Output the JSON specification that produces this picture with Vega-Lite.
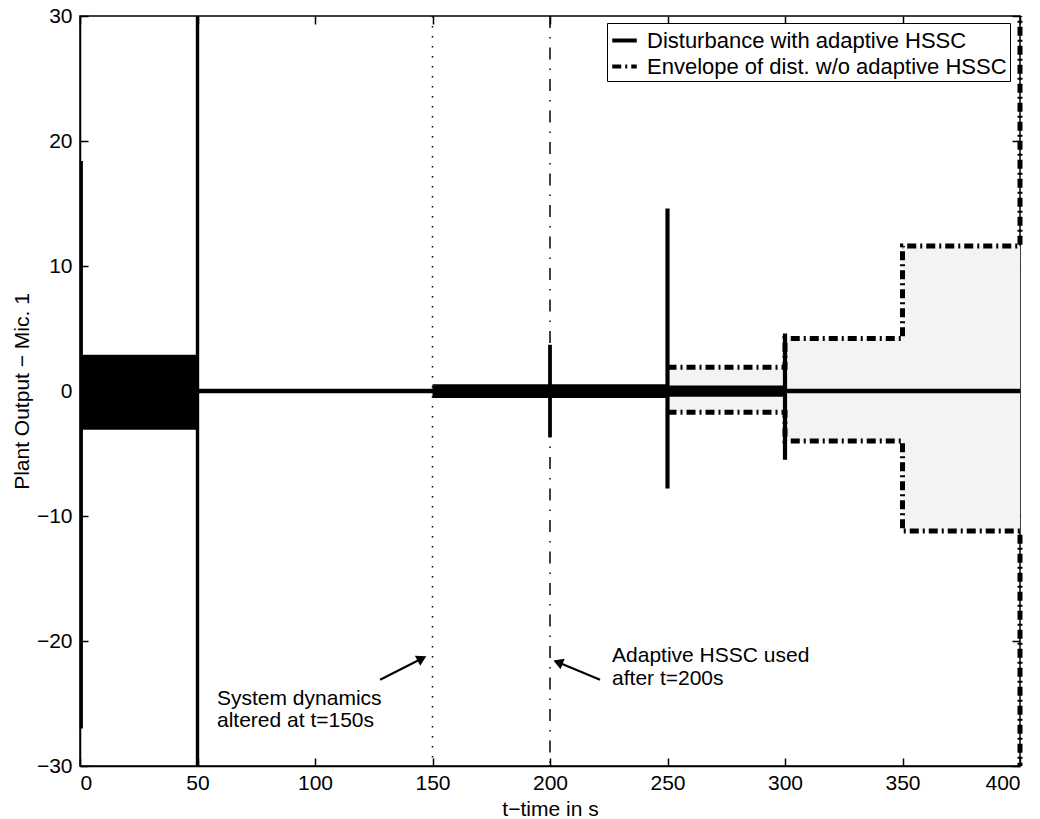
{
  "$schema": "https://vega.github.io/schema/vega-lite/v6.json",
  "width": 940,
  "height": 750,
  "autosize": {"type": "none"},
  "padding": {"left": 80, "top": 16, "right": 20, "bottom": 53},
  "background": "white",
  "config": {
    "font": "Liberation Sans",
    "view": {"stroke": "black", "strokeWidth": 1.5},
    "axis": {
      "labelFont": "Liberation Sans",
      "labelFontSize": 21,
      "labelColor": "black",
      "titleFont": "Liberation Sans",
      "titleFontSize": 21,
      "titleFontWeight": "normal",
      "titleColor": "black",
      "tickColor": "black",
      "tickSize": 8,
      "tickWidth": 1.5,
      "domainColor": "black",
      "domainWidth": 1.5,
      "grid": false
    },
    "legend": {
      "orient": "none",
      "legendX": 527,
      "legendY": 7,
      "strokeColor": "black",
      "fillColor": "white",
      "padding": 3,
      "labelFont": "Liberation Sans",
      "labelFontSize": 22,
      "labelColor": "black",
      "labelLimit": 600,
      "symbolType": "stroke",
      "symbolSize": 600,
      "symbolStrokeWidth": 4,
      "symbolStrokeColor": "black",
      "rowPadding": -5,
      "labelOffset": 8
    }
  },
  "datasets": {
    "env_area": [
      {"t": 250, "hi": 1.9, "lo": -1.7},
      {"t": 300, "hi": 4.2, "lo": -4.0},
      {"t": 350, "hi": 11.6, "lo": -11.2},
      {"t": 400, "hi": 11.6, "lo": -11.2}
    ],
    "markers": [
      {"t": 150, "kind": "dotted"},
      {"t": 200, "kind": "dashdot"}
    ],
    "bands": [
      {"t1": 0, "t2": 50, "lo": -3.1, "hi": 2.9},
      {"t1": 150, "t2": 250, "lo": -0.55, "hi": 0.55},
      {"t1": 250, "t2": 300, "lo": -0.45, "hi": 0.45}
    ],
    "spikes": [
      {"t": 0.6, "lo": -27, "hi": 18.4, "group": "edge"},
      {"t": 50, "lo": -30, "hi": 30, "group": "major"},
      {"t": 200, "lo": -3.7, "hi": 3.7, "group": "small"},
      {"t": 250, "lo": -7.8, "hi": 14.6, "group": "mid"},
      {"t": 300, "lo": -5.5, "hi": 4.6, "group": "mid"}
    ],
    "lines": [
      {"series": "Disturbance with adaptive HSSC", "path": "d", "order": 1, "t": 50, "v": 0},
      {"series": "Disturbance with adaptive HSSC", "path": "d", "order": 2, "t": 400, "v": 0},
      {"series": "Envelope of dist. w/o adaptive HSSC", "path": "eu", "order": 1, "t": 250, "v": 1.9},
      {"series": "Envelope of dist. w/o adaptive HSSC", "path": "eu", "order": 2, "t": 300, "v": 1.9},
      {"series": "Envelope of dist. w/o adaptive HSSC", "path": "eu", "order": 3, "t": 300, "v": 4.2},
      {"series": "Envelope of dist. w/o adaptive HSSC", "path": "eu", "order": 4, "t": 350, "v": 4.2},
      {"series": "Envelope of dist. w/o adaptive HSSC", "path": "eu", "order": 5, "t": 350, "v": 11.6},
      {"series": "Envelope of dist. w/o adaptive HSSC", "path": "eu", "order": 6, "t": 400, "v": 11.6},
      {"series": "Envelope of dist. w/o adaptive HSSC", "path": "eu", "order": 7, "t": 400, "v": 30},
      {"series": "Envelope of dist. w/o adaptive HSSC", "path": "el", "order": 1, "t": 250, "v": -1.7},
      {"series": "Envelope of dist. w/o adaptive HSSC", "path": "el", "order": 2, "t": 300, "v": -1.7},
      {"series": "Envelope of dist. w/o adaptive HSSC", "path": "el", "order": 3, "t": 300, "v": -4.0},
      {"series": "Envelope of dist. w/o adaptive HSSC", "path": "el", "order": 4, "t": 350, "v": -4.0},
      {"series": "Envelope of dist. w/o adaptive HSSC", "path": "el", "order": 5, "t": 350, "v": -11.2},
      {"series": "Envelope of dist. w/o adaptive HSSC", "path": "el", "order": 6, "t": 400, "v": -11.2},
      {"series": "Envelope of dist. w/o adaptive HSSC", "path": "el", "order": 7, "t": 400, "v": -30}
    ],
    "notes": [
      {"t": 58.3, "v": -24.6, "label": "System dynamics"},
      {"t": 58.3, "v": -26.4, "label": "altered at t=150s"},
      {"t": 226.4, "v": -21.2, "label": "Adaptive HSSC used"},
      {"t": 226.4, "v": -23.0, "label": "after t=200s"}
    ],
    "arrows": [
      {"id": "a1", "t": 127.7, "v": -23.1, "t2": 145.5, "v2": -21.4},
      {"id": "a2", "t": 221.3, "v": -23.1, "t2": 203.4, "v2": -21.7}
    ]
  },
  "resolve": {"axis": {"x": "independent", "y": "independent"}},
  "layer": [
    {
      "data": {"name": "env_area"},
      "mark": {"type": "area", "interpolate": "step-after", "fill": "#f3f3f3", "clip": true},
      "encoding": {
        "x": {"field": "t", "type": "quantitative", "scale": {"domain": [0, 400], "nice": false, "zero": false},
          "axis": {"orient": "bottom", "values": [0, 50, 100, 150, 200, 250, 300, 350, 400], "title": "t−time in s", "ticks": false, "labelPadding": 6, "titlePadding": 5}},
        "y": {"field": "hi", "type": "quantitative", "scale": {"domain": [-30, 30], "nice": false, "zero": false},
          "axis": {"orient": "left", "values": [-30, -20, -10, 0, 10, 20, 30], "title": "Plant Output − Mic. 1", "ticks": false, "labelPadding": 8, "titlePadding": 4}},
        "y2": {"field": "lo"}
      }
    },
    {
      "data": {"name": "markers"},
      "transform": [{"filter": "datum.kind === 'dotted'"}],
      "mark": {"type": "rule", "color": "black", "strokeWidth": 1.5, "strokeDash": [1.5, 8.5]},
      "encoding": {
        "x": {"field": "t", "type": "quantitative", "axis": null}
      }
    },
    {
      "data": {"name": "markers"},
      "transform": [{"filter": "datum.kind === 'dashdot'"}],
      "mark": {"type": "rule", "color": "black", "strokeWidth": 1.5, "strokeDash": [12, 9, 1.5, 9]},
      "encoding": {
        "x": {"field": "t", "type": "quantitative", "axis": null}
      }
    },
    {
      "data": {"name": "bands"},
      "mark": {"type": "rect", "color": "black"},
      "encoding": {
        "x": {"field": "t1", "type": "quantitative",
          "axis": {"orient": "bottom", "offset": -8, "values": [0, 50, 100, 150, 200, 250, 300, 350, 400], "labels": false, "title": null, "domain": false}},
        "x2": {"field": "t2"},
        "y": {"field": "lo", "type": "quantitative",
          "axis": {"orient": "left", "offset": -8, "values": [-30, -20, -10, 0, 10, 20, 30], "labels": false, "title": null, "domain": false}},
        "y2": {"field": "hi"}
      }
    },
    {
      "data": {"name": "spikes"},
      "mark": {"type": "rule", "color": "black"},
      "encoding": {
        "x": {"field": "t", "type": "quantitative",
          "axis": {"orient": "top", "offset": -8, "values": [0, 50, 100, 150, 200, 250, 300, 350, 400], "labels": false, "title": null, "domain": false}},
        "y": {"field": "lo", "type": "quantitative",
          "axis": {"orient": "right", "offset": -8, "values": [-30, -20, -10, 0, 10, 20, 30], "labels": false, "title": null, "domain": false}},
        "y2": {"field": "hi"},
        "strokeWidth": {"field": "group", "type": "nominal", "legend": null,
          "scale": {"domain": ["edge", "major", "small", "mid"], "range": [3, 5, 3, 4.5]}}
      }
    },
    {
      "data": {"name": "lines"},
      "mark": {"type": "line", "color": "black", "strokeCap": "butt"},
      "encoding": {
        "x": {"field": "t", "type": "quantitative", "axis": null},
        "y": {"field": "v", "type": "quantitative", "axis": null},
        "detail": {"field": "path"},
        "order": {"field": "order", "type": "quantitative"},
        "strokeDash": {"field": "series", "type": "nominal", "title": null,
          "scale": {"domain": ["Disturbance with adaptive HSSC", "Envelope of dist. w/o adaptive HSSC"], "range": [[1, 0], [9, 4, 2, 4]]}},
        "strokeWidth": {"field": "series", "type": "nominal", "title": null,
          "scale": {"domain": ["Disturbance with adaptive HSSC", "Envelope of dist. w/o adaptive HSSC"], "range": [3.5, 4]}}
      }
    },
    {
      "data": {"name": "arrows"},
      "mark": {"type": "rule", "color": "black", "strokeWidth": 2},
      "encoding": {
        "x": {"field": "t", "type": "quantitative", "axis": null},
        "y": {"field": "v", "type": "quantitative", "axis": null},
        "x2": {"field": "t2"},
        "y2": {"field": "v2"}
      }
    },
    {
      "data": {"name": "arrows"},
      "transform": [{"filter": "datum.id === 'a1'"}],
      "mark": {"type": "point", "shape": "triangle-up", "filled": true, "color": "black", "size": 130, "angle": 62, "opacity": 1},
      "encoding": {
        "x": {"field": "t2", "type": "quantitative", "axis": null},
        "y": {"field": "v2", "type": "quantitative", "axis": null}
      }
    },
    {
      "data": {"name": "arrows"},
      "transform": [{"filter": "datum.id === 'a2'"}],
      "mark": {"type": "point", "shape": "triangle-up", "filled": true, "color": "black", "size": 130, "angle": 291, "opacity": 1},
      "encoding": {
        "x": {"field": "t2", "type": "quantitative", "axis": null},
        "y": {"field": "v2", "type": "quantitative", "axis": null}
      }
    },
    {
      "data": {"name": "notes"},
      "mark": {"type": "text", "align": "left", "baseline": "middle", "font": "Liberation Sans", "fontSize": 21, "color": "black"},
      "encoding": {
        "x": {"field": "t", "type": "quantitative", "axis": null},
        "y": {"field": "v", "type": "quantitative", "axis": null},
        "text": {"field": "label"}
      }
    }
  ]
}
